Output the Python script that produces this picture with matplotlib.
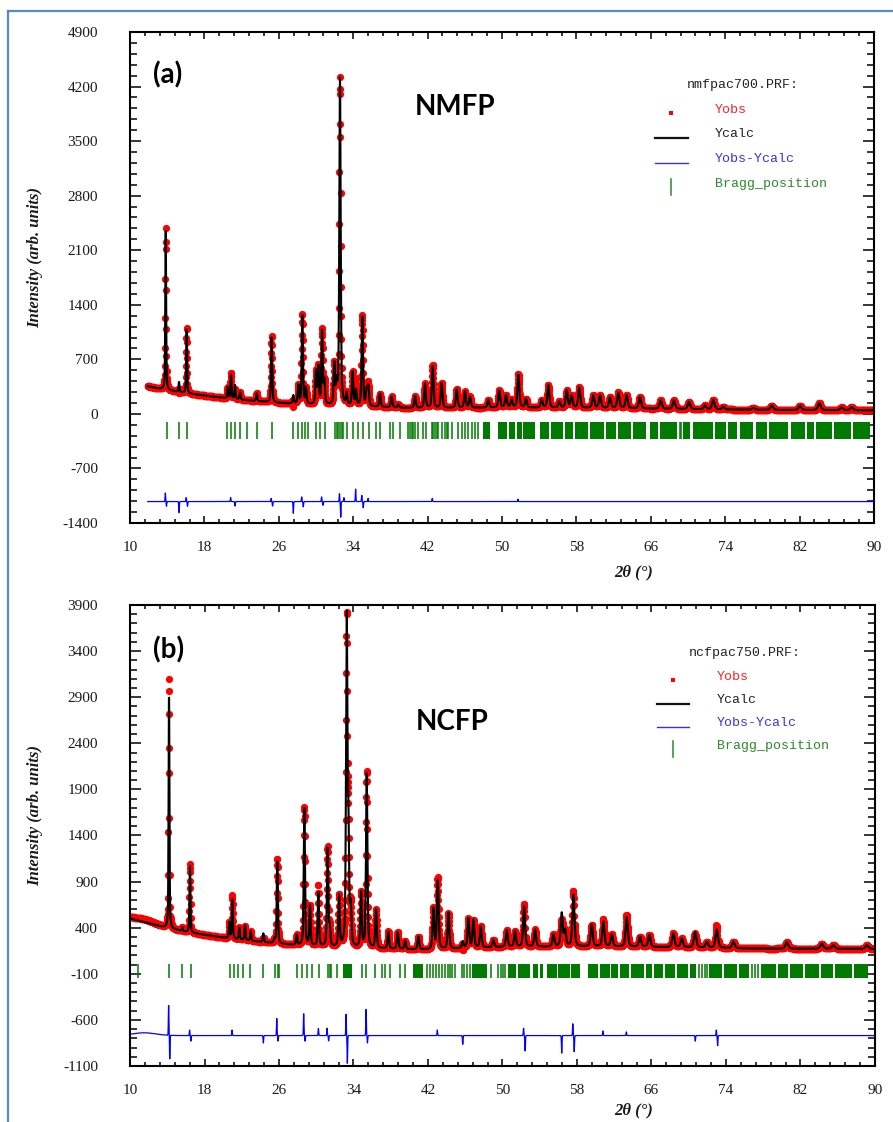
import numpy as np
import matplotlib
matplotlib.use("Agg")
import matplotlib.pyplot as plt
from matplotlib.lines import Line2D
from matplotlib.ticker import FixedLocator

plt.rcParams['axes.unicode_minus'] = False

W, H = 893, 1122

# ---------------- Panel (a): NMFP ----------------
a_range = [11.9, 90.0]
a_bg_pos = [11.9, 13, 14, 15, 16, 18, 20, 22, 24, 26, 28, 30, 32, 36, 40, 44, 50, 60, 70, 80, 90]
a_bg_int = [355, 325, 305, 285, 265, 235, 205, 180, 160, 140, 125, 115, 105, 90, 75, 75, 80, 75, 60, 50, 45]
a_peak_pos = [13.84, 15.27, 16.09, 20.50, 20.86, 21.29, 21.83, 23.63, 25.23, 27.56, 28.10, 28.53, 28.92,
              30.00, 30.25, 30.65, 30.90, 31.97, 32.22, 32.58, 33.30, 33.94, 34.30, 34.98, 35.45, 35.63,
              36.88, 38.14, 38.85, 40.65, 41.72, 42.55, 43.51, 45.13, 46.02, 46.56, 48.53, 49.71, 50.43,
              51.04, 51.76, 52.58, 54.27, 54.98, 56.16, 56.96, 57.49, 58.31, 59.82, 60.54, 61.61, 62.51,
              63.40, 64.84, 67.06, 68.49, 70.11, 71.83, 72.72, 73.80, 77.02, 79.00, 82.04, 84.12, 86.52, 87.60]
a_peak_amp = [2035, 130, 840, 145, 305, 180, 100, 100, 845, 105, 235, 1150, 200,
              420, 480, 950, 300, 520, 250, 4200, 150, 430, 200, 1150, 200, 250,
              170, 140, 40, 150, 310, 540, 320, 240, 210, 140, 100, 220, 160,
              100, 420, 110, 100, 290, 80, 220, 150, 260, 160, 160, 140, 200,
              170, 150, 110, 110, 95, 50, 120, 35, 25, 55, 55, 90, 35, 40]
a_res_pos = [13.80, 13.92, 15.27, 16.04, 16.18, 20.82, 21.29, 25.18, 25.33, 27.56, 28.46, 28.63,
             30.60, 30.75, 32.52, 32.66, 33.00, 34.26, 34.92, 35.08, 35.60, 42.50, 51.72]
a_res_amp = [110, -60, -150, 50, -60, 50, -60, 40, -60, -150, 60, -70,
             60, -50, 100, -200, 50, 160, 80, -80, 40, 40, 30]
a_res_wid = [0.07] * len(a_res_pos)
a_diff_offset = -1125
a_bragg = [13.94, 15.30, 16.16, 20.39, 20.82, 21.29, 21.83, 22.54, 23.69, 25.23, 27.56, 28.10, 28.46,
           28.82, 29.18, 30.00, 30.43, 30.97, 32.04, 32.22, 32.40, 32.58, 32.76, 32.94, 33.30, 34.01,
           34.55, 35.09, 35.73, 36.45, 36.88, 37.96, 38.32, 39.03, 39.93, 40.10, 40.29, 40.47, 40.65,
           41.00, 41.47, 41.83, 42.44, 42.62, 42.80, 42.98, 43.15, 43.51, 43.87, 44.05, 44.23, 44.59,
           45.30, 45.66, 46.02, 46.38, 46.74, 47.10, 47.46, 69.10, 69.30]
a_bragg_blocks = [[48.0, 48.7], [49.6, 50.5], [50.7, 51.4], [51.6, 52.1], [52.3, 53.5], [54.1, 55.1],
                  [55.3, 56.6], [56.8, 57.6], [57.8, 59.3], [59.5, 61.0], [61.2, 62.3], [62.5, 63.9],
                  [64.1, 65.5], [65.9, 66.8], [67.0, 68.8], [69.5, 70.2], [70.5, 72.7], [72.9, 74.1],
                  [74.3, 75.3], [75.6, 77.0], [77.3, 78.5], [78.7, 80.8], [81.1, 82.6], [82.8, 83.5],
                  [83.8, 85.5], [85.7, 87.5], [87.7, 89.6]]
a_bragg_span = [-100, -320]
a_yticks = [-1400, -700, 0, 700, 1400, 2100, 2800, 3500, 4200, 4900]

# ---------------- Panel (b): NCFP ----------------
b_range = [10.0, 90.0]
b_bg_pos = [10, 11, 12, 13, 14, 16, 18, 20, 22, 24, 26, 28, 30, 32, 34, 38, 42, 46, 50, 60, 66, 70, 76, 82, 90]
b_bg_int = [500, 475, 450, 420, 395, 355, 322, 292, 267, 245, 225, 207, 195, 185, 178, 168, 160, 175, 190,
            195, 190, 185, 175, 172, 170]
b_peak_pos = [14.19, 15.62, 16.44, 20.67, 20.99, 21.74, 22.35, 22.96, 24.32, 25.50, 25.82, 27.90, 28.72,
              29.33, 30.23, 31.22, 31.45, 32.45, 33.27, 33.45, 33.70, 34.81, 35.42, 36.42, 37.74, 38.75,
              39.54, 40.97, 42.58, 43.05, 44.20, 45.73, 46.34, 46.88, 47.67, 49.02, 50.46, 51.35, 52.32,
              53.50, 55.47, 56.36, 56.72, 57.62, 59.58, 60.83, 61.73, 63.34, 64.77, 65.77, 68.35, 69.25,
              70.68, 71.94, 73.01, 74.80, 80.53, 84.29, 85.54, 89.13]
b_peak_amp = [2580, 40, 720, 175, 430, 130, 160, 105, 95, 40, 890, 110, 1490,
              440, 590, 1060, 200, 560, 3520, 1200, 400, 600, 1890, 420, 185, 185,
              90, 140, 440, 750, 390, 70, 320, 300, 230, 80, 180, 170, 440,
              185, 130, 360, 170, 560, 235, 270, 130, 320, 110, 130, 150, 95,
              170, 60, 200, 70, 70, 55, 40, 40]
b_res_pos = [11.50, 14.15, 14.27, 16.40, 16.54, 20.96, 24.32, 25.76, 25.90, 28.65, 28.80, 30.23, 31.16,
             31.33, 33.20, 33.34, 35.35, 35.50, 43.00, 45.73, 52.26, 52.43, 56.36, 57.55, 57.70, 60.78,
             63.30, 70.70, 72.96, 73.10]
b_res_amp = [30, 340, -270, 60, -60, 60, -80, 185, -60, 250, -60, 80, 80,
             -60, 230, -300, 300, -80, 60, -100, 80, -175, -190, 135, -175, 50,
             40, -60, 60, -110]
b_res_wid = [3.0] + [0.07] * (len(b_res_pos) - 1)
b_diff_offset = -770
b_bragg = [10.85, 14.22, 15.55, 16.52, 20.74, 21.17, 21.64, 22.17, 22.89, 24.32, 25.57, 25.93, 26.05,
           27.90, 28.44, 28.98, 29.51, 30.34, 31.30, 31.45, 31.60, 32.20, 34.88, 35.35, 36.32, 37.03,
           37.39, 37.93, 39.00, 39.54, 41.87, 42.20, 42.55, 42.90, 43.20, 43.48, 43.83, 44.10, 44.35,
           44.60, 44.90, 45.60, 45.90, 46.20, 46.50, 48.80, 49.56, 49.80, 50.05, 50.28,
           71.10, 71.40, 71.70, 72.00, 76.80, 77.10, 77.40]
b_bragg_blocks = [[32.9, 33.8], [40.4, 41.5], [46.7, 48.3], [50.6, 51.5], [51.7, 52.9], [53.3, 53.8],
                  [54.0, 54.4], [54.8, 55.8], [56.0, 57.2], [57.4, 58.3], [59.2, 60.3], [60.5, 61.5],
                  [61.7, 62.4], [62.6, 63.6], [63.8, 65.2], [65.4, 66.1], [66.3, 67.2], [67.4, 68.5],
                  [68.7, 69.9], [70.1, 70.8], [72.2, 73.6], [73.8, 75.2], [75.4, 76.5], [77.8, 79.4],
                  [79.6, 80.7], [80.9, 82.3], [82.5, 84.0], [84.2, 85.5], [85.7, 87.5], [87.7, 89.2]]
b_bragg_span = [10, -150]
b_yticks = [-1100, -600, -100, 400, 900, 1400, 1900, 2400, 2900, 3400, 3900]

x_ticks = [10, 18, 26, 34, 42, 50, 58, 66, 74, 82, 90]

STEP = 0.02
ETA = 0.5


def calc_pattern(x, bg_pos, bg_int, pos, amp, w0, w1):
    y = np.interp(x, bg_pos, bg_int).astype(float)
    for p, a in zip(pos, amp):
        w = w0 + w1 * (p - 10)
        d = 2 * (x - p) / w
        y += a * (ETA / (1 + d * d) + (1 - ETA) * np.exp(-np.log(2) * d * d))
    return y


def residual(x, pos, amp, wid):
    r = np.zeros_like(x)
    for p, a, w in zip(pos, amp, wid):
        d = 2 * (x - p) / w
        r += a * np.exp(-np.log(2) * d * d)
    return r


def draw_panel(ax, rng, bg_pos, bg_int, ppos, pamp, rpos, ramp, rwid, offset,
               bragg, blocks, span, yticks, ystep_minor):
    x = np.arange(rng[0], rng[1] + 1e-9, STEP)
    yc = calc_pattern(x, bg_pos, bg_int, ppos, pamp, 0.09, 0.0035)
    res = residual(x, rpos, ramp, rwid)
    yo = yc + res
    ax.plot(x, yo, ls='none', marker='o', ms=5.2, color='#ff0000', mew=0, zorder=2)
    ax.plot(x, yc, color='black', lw=1.5, zorder=3)
    ax.plot(x, res + offset, color='#0000ff', lw=0.9, zorder=3)
    ax.vlines(bragg, span[1], span[0], color='#007a00', lw=1.1, zorder=3)
    ax.broken_barh([(s, e - s) for s, e in blocks], (span[1], span[0] - span[1]),
                   facecolor='#007a00', edgecolor='none', zorder=3)
    ax.set_xlim(10, 90)
    ax.set_ylim(yticks[0], yticks[-1])
    ax.xaxis.set_major_locator(FixedLocator(x_ticks))
    ax.xaxis.set_minor_locator(FixedLocator(np.arange(10, 90.01, 1.6)))
    ax.yaxis.set_major_locator(FixedLocator(yticks))
    ax.yaxis.set_minor_locator(FixedLocator(np.arange(yticks[0], yticks[-1] + 1, ystep_minor)))
    ax.tick_params(which='both', direction='in', top=True, right=True, color='black', width=1.1,
                   labelsize=11, labelcolor='#1a1a1a', labelfontfamily='Liberation Serif')
    ax.tick_params(axis='y', which='major', length=8, pad=23)
    ax.tick_params(axis='y', which='minor', length=5)
    ax.tick_params(axis='x', which='major', length=5, pad=13)
    ax.tick_params(axis='x', which='minor', length=3)
    for s in ax.spines.values():
        s.set_linewidth(1.5)


def legend(fig, title, tx, ty, textx, ys, symx, linex):
    mono = 'Liberation Mono'
    fig.text(tx / W, 1 - ty / H, title, family=mono, size=9.5, color='#222222', ha='left', va='center')
    labels = ['Yobs', 'Ycalc', 'Yobs-Ycalc', 'Bragg_position']
    colors = ['#ff2020', '#222222', '#3333ee', '#2a8a2a']
    for lab, col, y in zip(labels, colors, ys):
        fig.text(textx / W, 1 - y / H, lab, family=mono, size=9.5, color=col, ha='left', va='center')
    fig.add_artist(Line2D([symx / W], [1 - (ys[0] + 3) / H], marker='s', ms=2.8, color='#ff0000',
                          mew=0, transform=fig.transFigure))
    fig.add_artist(Line2D([linex[0] / W, linex[1] / W], [1 - (ys[1] + 4) / H] * 2, color='#111111',
                          lw=1.6, transform=fig.transFigure))
    fig.add_artist(Line2D([linex[0] / W, linex[1] / W], [1 - (ys[2] + 4) / H] * 2, color='#3333ee',
                          lw=1.0, transform=fig.transFigure))
    fig.add_artist(Line2D([symx / W] * 2, [1 - (ys[3] - 5) / H, 1 - (ys[3] + 11) / H], color='#2a8a2a',
                          lw=1.1, transform=fig.transFigure))


fig = plt.figure(figsize=(W / 100, H / 100), dpi=100)
axA = fig.add_axes([130 / W, 1 - 523 / H, (874 - 130) / W, (523 - 32) / H])
axB = fig.add_axes([130 / W, 1 - 1066 / H, (875 - 130) / W, (1066 - 605) / H])

draw_panel(axA, a_range, a_bg_pos, a_bg_int, a_peak_pos, a_peak_amp, a_res_pos, a_res_amp, a_res_wid,
           a_diff_offset, a_bragg, a_bragg_blocks, a_bragg_span, a_yticks, 140)
draw_panel(axB, b_range, b_bg_pos, b_bg_int, b_peak_pos, b_peak_amp, b_res_pos, b_res_amp, b_res_wid,
           b_diff_offset, b_bragg, b_bragg_blocks, b_bragg_span, b_yticks, 100)

serif = 'Liberation Serif'
for yc in (258, 815):
    fig.text(35 / W, 1 - yc / H, 'Intensity (arb. units)', rotation=90, ha='center', va='center',
             family=serif, style='italic', weight='bold', size=12, color='#1a1a1a')
for yc in (572, 1110):
    fig.text(634 / W, 1 - yc / H, '2θ (°)', ha='center', va='center',
             family=serif, style='italic', weight='bold', size=12, color='#1a1a1a')

bold_sans = ['Lato', 'DejaVu Sans']
fig.text(153 / W, 1 - 75 / H, '(a)', family=bold_sans, weight='bold', size=20, ha='left', va='center')
fig.text(455 / W, 1 - 107 / H, 'NMFP', family=bold_sans, weight='bold', size=20, ha='center', va='center')
fig.text(153 / W, 1 - 650 / H, '(b)', family=bold_sans, weight='bold', size=20, ha='left', va='center')
fig.text(452 / W, 1 - 722 / H, 'NCFP', family=bold_sans, weight='bold', size=20, ha='center', va='center')

legend(fig, 'nmfpac700.PRF:', 687, 85, 715, [110, 134, 159, 184], 671, (655, 688))
legend(fig, 'ncfpac750.PRF:', 689, 653, 717, [677, 700, 723, 746], 673, (657, 689))

# page frame
frame = '#5b87c8'
fig.add_artist(Line2D([8 / W, 8 / W], [0, 1 - 11 / H], color=frame, lw=1.6, transform=fig.transFigure))
fig.add_artist(Line2D([8 / W, 1], [1 - 11 / H, 1 - 11 / H], color=frame, lw=1.6, transform=fig.transFigure))

fig.savefig('out.png', dpi=100)
